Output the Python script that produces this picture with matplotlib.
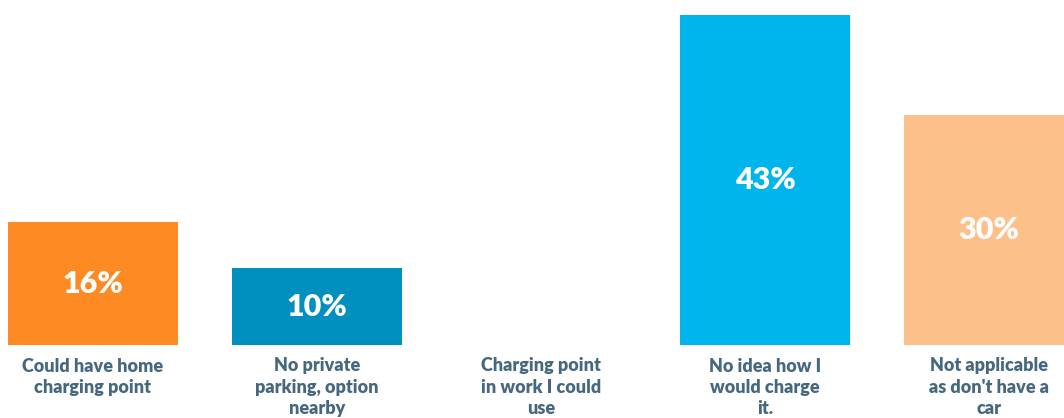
import matplotlib
matplotlib.use("Agg")
import matplotlib.pyplot as plt

categories = [
    "Could have home\ncharging point",
    "No private\nparking, option\nnearby",
    "Charging point\nin work I could\nuse",
    "No idea how I\nwould charge\nit.",
    "Not applicable\nas don't have a\ncar",
]
values = [16, 10, 0, 43, 30]
colors = ["#FD8A22", "#008FBE", "#00B5EC", "#00B5EC", "#FEC08B"]

plt.rcParams["font.family"] = ["Lato", "DejaVu Sans"]

fig = plt.figure(figsize=(10.64, 4.18), dpi=100)
ax = fig.add_axes([0, 73 / 418, 1, 345 / 418])

x = list(range(len(values)))
bars = ax.bar(x, values, width=0.76, color=colors, linewidth=0)

for xi, v in zip(x, values):
    if v > 0:
        ax.text(xi, v / 2, f"{v}%", ha="center", va="center",
                color="white", fontsize=22, fontweight="heavy")

ax.set_xlim(-0.415, 4.335)
ax.set_ylim(0, 44.95)
ax.set_xticks(x)
ax.set_xticklabels(categories, fontsize=13, fontweight="heavy",
                   color="#46687F", linespacing=1.32, va="top")
ax.tick_params(axis="x", length=0, pad=9)
ax.set_yticks([])
for s in ax.spines.values():
    s.set_visible(False)

fig.savefig("out.png", dpi=100)
